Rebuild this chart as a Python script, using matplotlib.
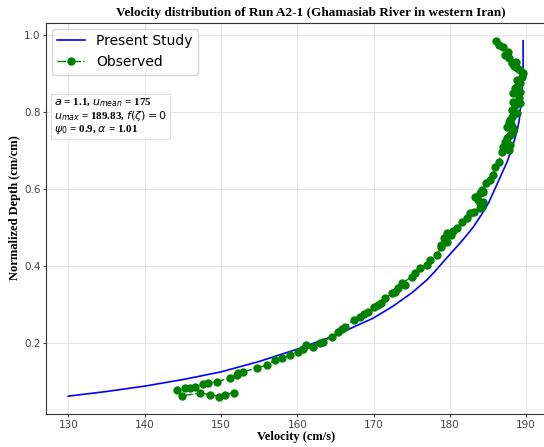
import matplotlib
matplotlib.use('Agg')
from matplotlib import pyplot as plt

plt.rcParams['mathtext.fontset'] = 'dejavusans'

# present study curve
model_velocity = [130.0, 135.0, 140.0, 145.0, 150.0, 155.0, 160.0, 165.0, 170.0,
                  172.5, 175.0, 177.0, 178.0, 179.1, 180.0, 181.0, 182.0, 183.1,
                  184.2, 185.1, 185.9, 186.8, 187.5, 188.2, 188.8, 189.1, 189.4,
                  189.6, 189.6]
model_depth = [0.062, 0.074, 0.088, 0.105, 0.125, 0.152, 0.184, 0.220, 0.265,
               0.295, 0.330, 0.364, 0.385, 0.410, 0.430, 0.452, 0.475, 0.502,
               0.535, 0.565, 0.600, 0.640, 0.670, 0.710, 0.750, 0.780, 0.840,
               0.900, 0.985]

# observed points, surface to bed
obs_velocity = [186.1, 186.5, 187.0, 187.6, 187.2, 187.8, 188.7, 188.1, 188.4,
                188.8, 189.2, 189.6, 189.4, 188.8, 189.2, 188.9, 188.5, 189.2,
                188.3, 189.0, 188.3, 189.2, 188.6, 188.1, 188.8, 188.1, 187.9,
                187.7, 188.0, 187.5, 188.3, 188.3, 188.1, 187.9, 187.5, 187.2,
                187.9, 187.0, 187.7, 186.8, 186.4, 185.9, 185.7, 185.3, 184.8,
                184.2, 184.4, 184.0, 183.3, 183.7, 184.3, 184.0, 184.2, 184.0,
                183.1, 182.6, 182.2, 181.6, 180.9, 180.4, 179.6, 180.2, 179.2,
                179.6, 178.9, 178.9, 178.3, 177.4, 177.0, 176.1, 175.4, 175.0,
                173.7, 174.1, 173.2, 172.8, 172.4, 171.5, 171.0, 170.6, 170.0,
                169.3, 168.8, 168.2, 167.4, 166.3, 165.9, 165.4, 164.5, 163.4,
                163.0, 161.2, 162.1, 160.8, 160.1, 159.1, 158.0, 157.1, 156.0,
                154.7, 152.9, 152.3, 152.1, 151.2, 149.5, 148.3, 147.7, 146.6,
                145.9, 145.3, 144.2, 144.9, 147.3, 148.6, 149.8, 150.5, 151.7]
obs_depth = [0.984, 0.975, 0.968, 0.955, 0.948, 0.939, 0.931, 0.926, 0.920,
             0.913, 0.909, 0.900, 0.890, 0.883, 0.875, 0.870, 0.861, 0.853,
             0.848, 0.835, 0.827, 0.823, 0.818, 0.805, 0.797, 0.788, 0.779,
             0.775, 0.768, 0.762, 0.758, 0.753, 0.745, 0.740, 0.732, 0.722,
             0.715, 0.710, 0.701, 0.697, 0.671, 0.658, 0.636, 0.623, 0.615,
             0.597, 0.593, 0.589, 0.580, 0.572, 0.566, 0.563, 0.554, 0.550,
             0.541, 0.537, 0.524, 0.515, 0.498, 0.490, 0.485, 0.481, 0.472,
             0.463, 0.455, 0.450, 0.429, 0.416, 0.403, 0.394, 0.381, 0.372,
             0.355, 0.351, 0.342, 0.333, 0.329, 0.316, 0.305, 0.299, 0.294,
             0.281, 0.275, 0.268, 0.260, 0.242, 0.236, 0.229, 0.216, 0.203,
             0.199, 0.195, 0.190, 0.184, 0.177, 0.169, 0.160, 0.156, 0.143,
             0.134, 0.126, 0.121, 0.117, 0.110, 0.099, 0.097, 0.093, 0.087,
             0.084, 0.082, 0.078, 0.063, 0.070, 0.066, 0.061, 0.066, 0.071]

params_text = ('$a$ = 1.1, $u_{mean}$ = 175\n'
               '$u_{max}$ = 189.83, $f(\\zeta) = 0$\n'
               '$\\psi_0$ = 0.9, $\\alpha$ = 1.01')

fig = plt.figure(figsize=(5.44, 4.47), dpi=100)
# right spine sits just past the image edge, as in the original crop
ax = fig.add_axes([0.0846, 0.0738, 0.9191, 0.8747])

ax.plot(model_velocity, model_depth, color='blue', linewidth=1.2, label='Present Study')
ax.plot(obs_velocity, obs_depth, color='green', linestyle='-.', marker='o',
        markersize=5, linewidth=1.0, label='Observed')

ax.set_xlim(127.08, 192.6)
ax.set_ylim(0.0156, 1.031)
ax.set_xticks([130, 140, 150, 160, 170, 180, 190])
ax.set_yticks([0.2, 0.4, 0.6, 0.8, 1.0])
ax.grid(True, color='#e6e6e6', linewidth=0.8)
ax.tick_params(labelsize=7.5, colors='#444444', length=2, pad=2)
for s in ax.spines.values():
    s.set_color('#333333')

ax.set_title('Velocity distribution of Run A2-1 (Ghamasiab River in western Iran)',
             fontsize=9.5, fontweight='bold', family='Liberation Serif', pad=5, x=0.53)
ax.set_xlabel('Velocity (cm/s)', fontsize=9, fontweight='bold', family='Liberation Serif', labelpad=1)
ax.set_ylabel('Normalized Depth (cm/cm)', fontsize=9, fontweight='bold', family='Liberation Serif')
ax.yaxis.set_label_coords(-0.05, 0.527)

ax.legend(loc='upper left', fontsize=10, frameon=True, borderaxespad=0.4)

ax.text(0.016, 0.812, params_text, transform=ax.transAxes, fontsize=8,
        fontweight='bold', family='Liberation Serif', va='top', ha='left',
        linespacing=1.0,
        bbox=dict(boxstyle='square,pad=0.25', facecolor='white', edgecolor='#dddddd', linewidth=0.8))

plt.savefig('out.png', dpi=100)
